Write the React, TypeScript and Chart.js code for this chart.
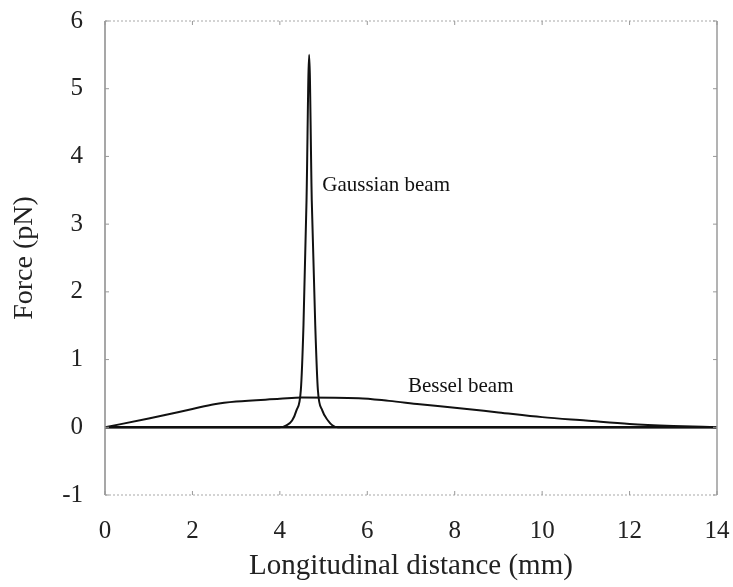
import React, { useEffect, useRef } from "react";
import { Chart, registerables } from "chart.js";

Chart.register(...registerables);

// ---- Data ----
const gaussX = [0, 4.0, 4.15, 4.28, 4.38, 4.48, 4.54, 4.61, 4.67, 4.73, 4.81, 4.87, 4.97, 5.1, 5.2, 5.33, 14];
const gaussY = [0, 0, 0.03, 0.1, 0.25, 0.55, 1.5, 3.35, 5.5, 3.35, 1.5, 0.55, 0.25, 0.1, 0.03, 0, 0];

const besselX = [0, 1, 2, 2.5, 3, 4, 4.5, 5.8, 6.5, 7.2, 8, 9, 10, 11, 12, 13, 14];
const besselY = [0, 0.13, 0.27, 0.34, 0.38, 0.42, 0.44, 0.43, 0.39, 0.34, 0.29, 0.22, 0.15, 0.1, 0.05, 0.02, 0];

const xTicks = [0, 2, 4, 6, 8, 10, 12, 14];
const yTicks = [-1, 0, 1, 2, 3, 4, 5, 6];

const annotationLabels = ["Gaussian beam", "Bessel beam"];
const annotationX = [4.97, 6.93];
const annotationY = [3.57, 0.6];

const xTitle = "Longitudinal distance (mm)";
const yTitle = "Force (pN)";

const FONT = "'Liberation Serif', 'Times New Roman', serif";

const framePlugin = {
  id: "frame",
  afterDatasetsDraw(chart: any) {
    const { ctx, chartArea } = chart;
    const { left, right, top, bottom } = chartArea;
    const xs = chart.scales.x;
    const ys = chart.scales.y;
    ctx.save();
    ctx.strokeStyle = "#8a8a8a";
    ctx.lineWidth = 1.5;
    ctx.beginPath();
    ctx.moveTo(left, top);
    ctx.lineTo(left, bottom);
    ctx.stroke();
    ctx.strokeStyle = "#9a9a9a";
    ctx.beginPath();
    ctx.moveTo(right, top);
    ctx.lineTo(right, bottom);
    ctx.stroke();
    ctx.setLineDash([2, 2]);
    ctx.strokeStyle = "#a8a8a8";
    ctx.lineWidth = 1.2;
    ctx.beginPath();
    ctx.moveTo(left, top);
    ctx.lineTo(right, top);
    ctx.moveTo(left, bottom);
    ctx.lineTo(right, bottom);
    ctx.stroke();
    ctx.setLineDash([]);
    ctx.strokeStyle = "#999";
    ctx.lineWidth = 1;
    ctx.beginPath();
    yTicks.forEach((v) => {
      const y = ys.getPixelForValue(v);
      ctx.moveTo(left, y);
      ctx.lineTo(left + 4, y);
      ctx.moveTo(right, y);
      ctx.lineTo(right - 4, y);
    });
    xTicks.forEach((v) => {
      const x = xs.getPixelForValue(v);
      ctx.moveTo(x, bottom);
      ctx.lineTo(x, bottom - 4);
      ctx.moveTo(x, top);
      ctx.lineTo(x, top + 4);
    });
    ctx.stroke();
    ctx.fillStyle = "#111";
    ctx.font = `21px ${FONT}`;
    ctx.textAlign = "left";
    ctx.textBaseline = "middle";
    annotationLabels.forEach((t, i) => {
      ctx.fillText(t, xs.getPixelForValue(annotationX[i]), ys.getPixelForValue(annotationY[i]));
    });
    ctx.restore();
  },
};

export default function App() {
  const canvasRef = useRef<HTMLCanvasElement | null>(null);

  useEffect(() => {
    const canvas = canvasRef.current;
    if (!canvas) return;
    const chart = new Chart(canvas, {
      type: "line",
      data: {
        datasets: [
          {
            label: "Gaussian beam",
            data: gaussX.map((x, i) => ({ x, y: gaussY[i] })),
            borderColor: "#111",
            borderWidth: 2,
            pointRadius: 0,
            cubicInterpolationMode: "monotone",
            fill: false,
          },
          {
            label: "Bessel beam",
            data: besselX.map((x, i) => ({ x, y: besselY[i] })),
            borderColor: "#111",
            borderWidth: 2,
            pointRadius: 0,
            cubicInterpolationMode: "monotone",
            fill: false,
          },
        ],
      },
      options: {
        animation: false,
        responsive: false,
        maintainAspectRatio: false,
        layout: { padding: { top: 21, right: 16, left: 0, bottom: 0 } },
        plugins: { legend: { display: false }, tooltip: { enabled: false } },
        scales: {
          x: {
            type: "linear",
            min: 0,
            max: 14,
            afterFit: (s: any) => {
              s.height = 92;
              s.paddingLeft = 0;
              s.paddingRight = 0;
            },
            afterBuildTicks: (s: any) => {
              s.ticks = xTicks.map((v) => ({ value: v }));
            },
            border: { display: false },
            grid: { display: false, drawTicks: false },
            ticks: {
              color: "#222",
              font: { family: FONT, size: 25 },
              padding: 21,
              maxRotation: 0,
            },
            title: {
              display: true,
              text: xTitle,
              color: "#222",
              font: { family: FONT, size: 29 },
              padding: { top: 0, bottom: 3 },
            },
          },
          y: {
            type: "linear",
            min: -1,
            max: 6,
            afterFit: (s: any) => {
              s.width = 105;
              s.paddingTop = 0;
              s.paddingBottom = 0;
            },
            afterBuildTicks: (s: any) => {
              s.ticks = yTicks.map((v) => ({ value: v }));
            },
            border: { display: false },
            grid: {
              drawTicks: false,
              color: (c: any) => (c.tick && c.tick.value === 0 ? "#111" : "rgba(0,0,0,0)"),
              lineWidth: (c: any) => (c.tick && c.tick.value === 0 ? 2.5 : 0),
            },
            ticks: {
              color: "#222",
              font: { family: FONT, size: 25 },
              padding: 22,
            },
            title: {
              display: true,
              text: yTitle,
              color: "#222",
              font: { family: FONT, size: 28 },
              padding: { top: 8, bottom: 0 },
            },
          },
        },
      },
      plugins: [framePlugin],
    });
    return () => chart.destroy();
  }, []);

  return (
    <div style={{ position: "fixed", left: 0, top: 0, width: 733, height: 587, background: "#fff" }}>
      <canvas ref={canvasRef} width={733} height={587} style={{ display: "block" }} />
    </div>
  );
}
